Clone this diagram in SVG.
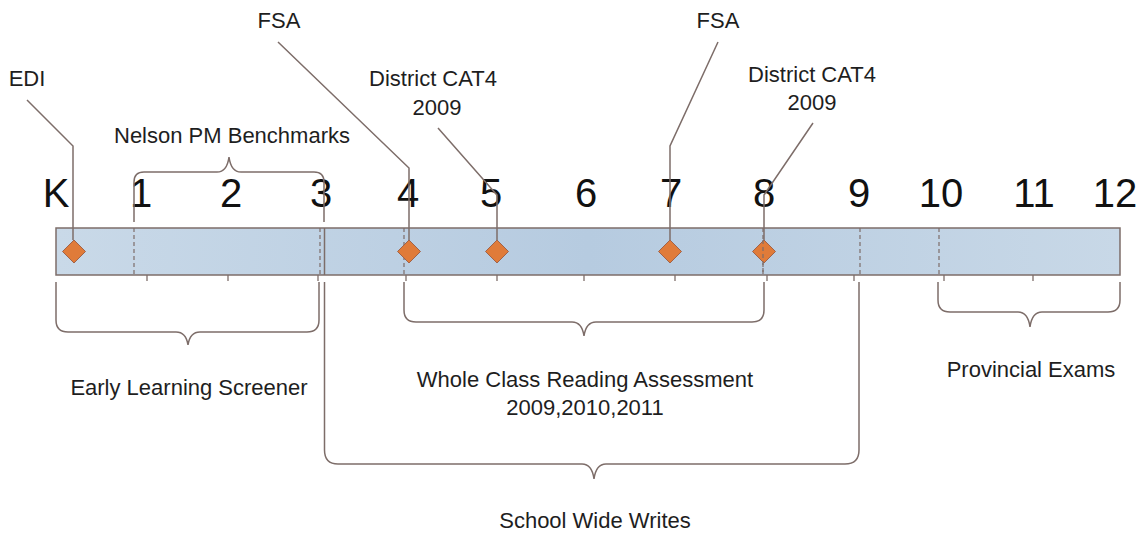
<svg xmlns="http://www.w3.org/2000/svg" width="1143" height="533" viewBox="0 0 1143 533">
<defs>
<linearGradient id="barGrad" x1="0" y1="0" x2="1" y2="0">
<stop offset="0" stop-color="#c9d9e8"/>
<stop offset="0.5" stop-color="#b6cbe0"/>
<stop offset="1" stop-color="#c8d8e7"/>
</linearGradient>
<path id="dia" d="M0 -11.5 L11.5 0 L0 11.5 L-11.5 0 Z"/>
</defs>
<style>
.ln{fill:none;stroke:#7d6d69;stroke-width:1.5}
.dash{fill:none;stroke:#7d6d69;stroke-width:1.2;stroke-dasharray:4 3}
.tick{fill:none;stroke:#7d6d69;stroke-width:1.3}
.dm{fill:#e07b39;stroke:#a0634a;stroke-width:1}
.lbl{font-family:"Liberation Sans",Arial,sans-serif;font-size:22px;fill:#1e1e1e;text-anchor:middle}
.gr{font-family:"Liberation Sans",Arial,sans-serif;font-size:40px;fill:#111;text-anchor:middle}
</style>
<rect width="1143" height="533" fill="#ffffff"/>

<g id="timeline">
<rect x="56" y="228" width="1064" height="47" fill="url(#barGrad)" stroke="#7d6d69" stroke-width="1.5"/>
<line class="dash" x1="134" y1="228" x2="134" y2="275"/>
<line class="dash" x1="320" y1="228" x2="320" y2="275"/>
<line class="ln" x1="324.5" y1="228" x2="324.5" y2="275"/>
<line class="dash" x1="404" y1="228" x2="404" y2="275"/>
<line class="dash" x1="763" y1="228" x2="763" y2="275"/>
<line class="dash" x1="860" y1="228" x2="860" y2="275"/>
<line class="dash" x1="939" y1="228" x2="939" y2="275"/>
<g class="tick">
<line x1="147" y1="275" x2="147" y2="281"/>
<line x1="228" y1="275" x2="228" y2="281"/>
<line x1="318" y1="275" x2="318" y2="281"/>
<line x1="406" y1="275" x2="406" y2="281"/>
<line x1="497" y1="275" x2="497" y2="281"/>
<line x1="584" y1="275" x2="584" y2="281"/>
<line x1="675" y1="275" x2="675" y2="281"/>
<line x1="767" y1="275" x2="767" y2="281"/>
<line x1="854" y1="275" x2="854" y2="281"/>
<line x1="944" y1="275" x2="944" y2="281"/>
<line x1="1033" y1="275" x2="1033" y2="281"/>
</g>
<g id="grades">
<text class="gr" x="56" y="207">K</text>
<text class="gr" x="141" y="207">1</text>
<text class="gr" x="231" y="207">2</text>
<text class="gr" x="321" y="207">3</text>
<text class="gr" x="408" y="207">4</text>
<text class="gr" x="491" y="207">5</text>
<text class="gr" x="586" y="207">6</text>
<text class="gr" x="671" y="207">7</text>
<text class="gr" x="764" y="207">8</text>
<text class="gr" x="859" y="207">9</text>
<text class="gr" x="941" y="207">10</text>
<text class="gr" x="1034" y="207">11</text>
<text class="gr" x="1115" y="207">12</text>
</g>
</g>

<g id="connectors">
<path class="ln" d="M27 100 L73 146 L73 240"/>
<path class="ln" d="M278 42 L409 168 L409 240"/>
<path class="ln" d="M438 128 L497 195 L497 240"/>
<path class="ln" d="M718 42 L670 146 L670 240"/>
<path class="ln" d="M813 123 L764 195 L764 240"/>
<path class="ln" d="M134 222 L134 182 Q134 172 144 172 L217 172 Q227 172 229 157 Q231 172 241 172 L314 172 Q324 172 324 182 L324 222"/>
<path class="ln" d="M56 282 L56 320 Q56 332 68 332 L176 332 Q186 332 188 345 Q190 332 200 332 L307 332 Q319 332 319 320 L319 282"/>
<path class="ln" d="M404 282 L404 310 Q404 322 416 322 L572 322 Q582 322 584 336 Q586 322 596 322 L752 322 Q764 322 764 310 L764 282"/>
<path class="ln" d="M938 282 L938 300 Q938 312 950 312 L1018 312 Q1028 312 1030 327 Q1032 312 1042 312 L1108 312 Q1120 312 1120 300 L1120 282"/>
<path class="ln" d="M324.5 282 L324.5 450 Q324.5 464 338 464 L582 464 Q592 464 594 479 Q596 464 606 464 L845 464 Q859 464 859 450 L859 282"/>
</g>

<g id="edi"><use href="#dia" class="dm" x="74" y="251.5"/><text class="lbl" x="27" y="86">EDI</text></g>
<g id="fsa4"><use href="#dia" class="dm" x="409" y="251.5"/><text class="lbl" x="279" y="28">FSA</text></g>
<g id="cat5"><use href="#dia" class="dm" x="497" y="251.5"/><text class="lbl" x="433" y="86">District CAT4</text><text class="lbl" x="437" y="115">2009</text></g>
<g id="fsa7"><use href="#dia" class="dm" x="670" y="251.5"/><text class="lbl" x="718" y="28">FSA</text></g>
<g id="cat8"><use href="#dia" class="dm" x="764" y="251.5"/><text class="lbl" x="812" y="82">District CAT4</text><text class="lbl" x="812" y="110">2009</text></g>
<line class="dash" x1="763" y1="240" x2="763" y2="275"/>

<g id="nelson"><text class="lbl" x="232" y="143">Nelson PM Benchmarks</text></g>
<g id="early"><text class="lbl" x="189" y="395">Early Learning Screener</text></g>
<g id="wholeclass"><text class="lbl" x="585" y="387">Whole Class Reading Assessment</text><text class="lbl" x="585" y="415">2009,2010,2011</text></g>
<g id="provincial"><text class="lbl" x="1031" y="377">Provincial Exams</text></g>
<g id="schoolwide"><text class="lbl" x="595" y="528">School Wide Writes</text></g>
</svg>
